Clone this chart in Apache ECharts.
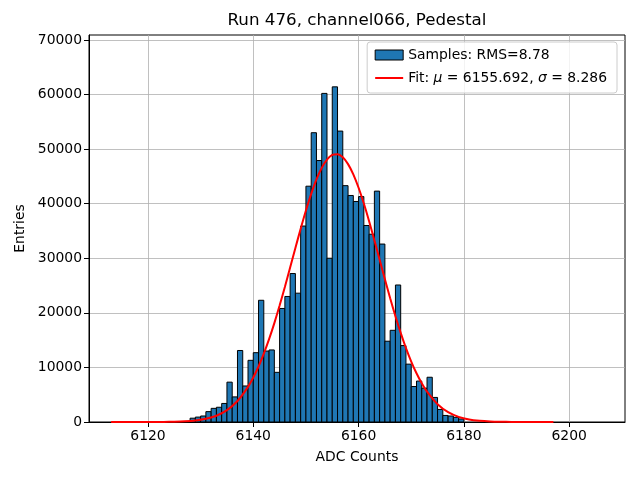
<!DOCTYPE html>
<html>
<head>
    <meta charset="utf-8">
    <script src="https://cdn.jsdelivr.net/npm/echarts@6/dist/echarts.min.js"></script>
    <style>
        html, body { margin: 0; padding: 0; background: #fff; }
        #container { width: 640px; height: 480px; }
    </style>
</head>
<body>
<div id="container"></div>
<script>
    // histogram: one bin per ADC count, first bin starts at 6128
    var binStart = 6128;
    var binWidth = 1;
    var counts = [700, 900, 1100, 1900, 2500, 2700, 3400, 7300, 4600, 13100,
        6600, 11300, 12700, 22300, 13000, 13200, 9100, 20800, 23000, 27200,
        23600, 35900, 43200, 53000, 47900, 60200, 30000, 61400, 53300, 43300,
        41500, 40400, 41300, 36000, 34400, 42300, 32600, 14800, 16800, 25100,
        14000, 10600, 6500, 7500, 6200, 8200, 4500, 2300, 1200, 1100,
        850, 550];

    // fit curve
    var fitX = [6113, 6115, 6117, 6119, 6121, 6123, 6125, 6127, 6129, 6131,
        6133, 6135, 6137, 6139, 6140, 6141, 6142, 6143, 6144, 6145,
        6146, 6147, 6148, 6149, 6150, 6151, 6152, 6153, 6154, 6155,
        6156, 6157, 6158, 6159, 6160, 6161, 6162, 6163, 6164, 6165,
        6166, 6167, 6168, 6169, 6170, 6171, 6172, 6173, 6175, 6177,
        6179, 6181, 6183, 6185, 6187, 6189, 6191, 6193, 6195, 6197];
    var fitY = [0, 0, 1, 3, 8, 20, 50, 120, 270, 580,
        1150, 2170, 3850, 6440, 8160, 10170, 12520, 15170, 18120, 21330,
        24750, 28300, 31880, 35400, 38750, 41800, 44440, 46560, 48080, 48920,
        49070, 48500, 47240, 45360, 42910, 40020, 36780, 33300, 29730, 26160,
        22680, 19380, 16320, 13540, 11080, 8930, 7090, 5550, 3260, 1800,
        940, 460, 220, 95, 40, 15, 5, 2, 1, 0];

    var xTicks = [6120, 6140, 6160, 6180, 6200];
    var yTicks = [0, 10000, 20000, 30000, 40000, 50000, 60000, 70000];

    var histName = 'Samples: RMS=8.78';
    var fitName = 'Fit: μ = 6155.692, σ = 8.286';

    var histData = [];
    for (var i = 0; i < counts.length; i++) {
        var lo = binStart + i * binWidth;
        histData.push([lo, lo + binWidth, counts[i]]);
    }
    var fitData = [];
    for (var j = 0; j < fitX.length; j++) {
        fitData.push([fitX[j], fitY[j]]);
    }

    var font = 'DejaVu Sans';
    var myChart = echarts.init(document.getElementById('container'), null, {renderer: 'canvas'});

    var option = {
        animation: false,
        backgroundColor: '#fff',
        textStyle: {fontFamily: font},
        graphic: [{
            type: 'text',
            x: 357,
            y: 21,
            style: {
                text: 'Run 476, channel066, Pedestal',
                font: '16.7px "DejaVu Sans"',
                fill: '#000',
                align: 'center',
                verticalAlign: 'middle'
            }
        }],
        grid: {
            left: 89,
            right: 15,
            top: 35,
            bottom: 58,
            show: true,
            borderColor: '#000',
            borderWidth: 1,
            containLabel: false
        },
        legend: {
            orient: 'vertical',
            right: 23,
            top: 42,
            padding: [6, 10, 8, 7],
            itemGap: 9,
            itemWidth: 28,
            itemHeight: 10,
            backgroundColor: 'rgba(255,255,255,0.8)',
            borderColor: '#cccccc',
            borderWidth: 1,
            borderRadius: 3,
            data: [
                {name: histName, icon: 'rect', itemStyle: {color: '#1f77b4', borderColor: '#000', borderWidth: 1}},
                {name: fitName, itemStyle: {opacity: 0}, lineStyle: {color: '#ff0000', width: 2}}
            ],
            formatter: function (name) {
                if (name === fitName) {
                    return '{r|Fit: }{i|μ}{r| = 6155.692, }{i|σ}{r| = 8.286}';
                }
                return '{r|' + name + '}';
            },
            textStyle: {
                fontFamily: font,
                fontSize: 13.9,
                color: '#000',
                rich: {
                    r: {fontFamily: font, fontSize: 13.9, color: '#000'},
                    i: {fontFamily: font, fontSize: 13.9, color: '#000', fontStyle: 'italic'}
                }
            }
        },
        xAxis: {
            type: 'value',
            min: 6108.8,
            max: 6210.6,
            name: 'ADC Counts',
            nameLocation: 'middle',
            nameGap: 28,
            nameTextStyle: {fontFamily: font, fontSize: 13.9, color: '#000'},
            axisLine: {show: true, onZero: false, lineStyle: {color: '#000', width: 1}},
            axisTick: {show: true, length: 5, lineStyle: {color: '#000'}, customValues: xTicks},
            axisLabel: {
                customValues: xTicks,
                fontFamily: font, fontSize: 13.9, color: '#000', margin: 7,
                formatter: function (v) { return String(v); }
            },
            splitLine: {show: true, lineStyle: {color: '#b0b0b0', width: 0.8}}
        },
        yAxis: {
            type: 'value',
            min: 0,
            max: 70900,
            name: 'Entries',
            nameLocation: 'middle',
            nameGap: 58,
            nameTextStyle: {fontFamily: font, fontSize: 13.9, color: '#000'},
            axisLine: {show: true, lineStyle: {color: '#000', width: 1}},
            axisTick: {show: true, length: 5, lineStyle: {color: '#000'}, customValues: yTicks},
            axisLabel: {
                customValues: yTicks,
                fontFamily: font, fontSize: 13.9, color: '#000', margin: 7,
                formatter: function (v) { return String(v); }
            },
            splitLine: {show: true, lineStyle: {color: '#b0b0b0', width: 0.8}}
        },
        series: [{
            name: histName,
            type: 'custom',
            z: 2,
            renderItem: function (params, api) {
                var p0 = api.coord([api.value(0), 0]);
                var p1 = api.coord([api.value(1), api.value(2)]);
                return {
                    type: 'rect',
                    shape: {x: p0[0], y: p1[1], width: p1[0] - p0[0], height: p0[1] - p1[1]},
                    style: {fill: '#1f77b4', stroke: '#000', lineWidth: 1}
                };
            },
            encode: {x: [0, 1], y: 2},
            data: histData
        }, {
            name: fitName,
            type: 'line',
            z: 3,
            symbol: 'none',
            smooth: 0.3,
            lineStyle: {color: '#ff0000', width: 2},
            itemStyle: {color: '#ff0000'},
            data: fitData
        }]
    };
    myChart.setOption(option);
</script>
</body>
</html>
